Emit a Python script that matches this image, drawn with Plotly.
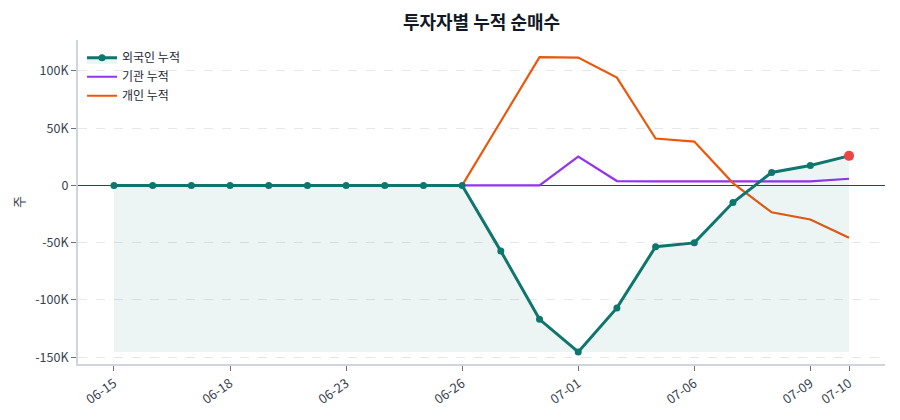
import plotly.graph_objects as go

dates = ["06-15","06-16","06-17","06-18","06-19","06-22","06-23","06-24","06-25","06-26",
         "06-29","06-30","07-01","07-02","07-03","07-06","07-07","07-08","07-09","07-10"]
foreign = [0,0,0,0,0,0,0,0,0,0,-57400,-117000,-145500,-107000,-53600,-50200,-15000,11300,17400,25800]
institution = [0,0,0,0,0,0,0,0,0,0,0,0,25200,3800,3600,3600,3600,3600,3600,5800]
individual = [0,0,0,0,0,0,0,0,0,0,56000,112000,111600,94200,40900,38300,2000,-23500,-29800,-45800]
x_ticks = ["06-15","06-18","06-23","06-26","07-01","07-06","07-09","07-10"]
y_tickvals = [-150000,-100000,-50000,0,50000,100000]
y_ticktext = ["-150K","-100K","-50K","0","50K","100K"]

idx = list(range(len(dates)))
tick_idx = [dates.index(d) for d in x_ticks]
base = [min(foreign)] * len(dates)

TEAL = "#0f766e"
fig = go.Figure()
fig.add_trace(go.Scatter(x=idx, y=institution, mode="lines", name="기관 누적", legendrank=2,
                         line=dict(color="#9333ea", width=2.2)))
fig.add_trace(go.Scatter(x=idx, y=individual, mode="lines", name="개인 누적", legendrank=3,
                         line=dict(color="#ea580c", width=2.2)))
fig.add_trace(go.Scatter(x=idx, y=base, mode="lines", line=dict(width=0),
                         showlegend=False, hoverinfo="skip"))
fig.add_trace(go.Scatter(x=idx, y=foreign, mode="lines+markers", name="외국인 누적", legendrank=1,
                         line=dict(color=TEAL, width=3), marker=dict(size=7, color=TEAL),
                         fill="tonexty", fillcolor="rgba(15,118,110,0.08)"))
fig.add_trace(go.Scatter(x=[idx[-1]], y=[foreign[-1]], mode="markers", showlegend=False,
                         marker=dict(size=10, color="#ef4444")))

fig.update_layout(
    width=900, height=420,
    margin=dict(l=78, r=15, t=40, b=54),
    paper_bgcolor="white", plot_bgcolor="white",
    font=dict(family="Noto Sans CJK KR, Noto Sans, sans-serif", size=12, color="#374151"),
    title=dict(text="<b>투자자별 누적 순매수</b>", x=0.535, xref="container", xanchor="center",
               y=0.947, yref="container", yanchor="middle", font=dict(size=18, color="#111827")),
    legend=dict(x=0.005, y=0.99, xanchor="left", yanchor="top", bgcolor="rgba(255,255,255,0)",
                font=dict(size=12, color="#1f2937"), traceorder="normal"),
    showlegend=True,
)
fig.update_xaxes(range=[-0.93, 19.93], tickvals=tick_idx, ticktext=x_ticks, tickangle=-35,
                 showgrid=False, showline=True, linecolor="#d1d5db", linewidth=2,
                 ticks="outside", ticklen=5, tickcolor="#6b7280", zeroline=False,
                 tickfont=dict(size=13, color="#374151"))
fig.update_yaxes(range=[-156000, 127000], tickvals=y_tickvals, ticktext=y_ticktext,
                 showgrid=True, gridcolor="#e5e7eb", griddash="dash", gridwidth=1,
                 showline=True, linecolor="#d1d5db", linewidth=2,
                 ticks="outside", ticklen=5, tickcolor="#6b7280",
                 zeroline=True, zerolinecolor="#334155", zerolinewidth=1.2,
                 title=dict(text="주", font=dict(size=13, color="#374151"), standoff=8),
                 tickfont=dict(size=12.5, color="#374151"))

fig.write_html("out.html")
